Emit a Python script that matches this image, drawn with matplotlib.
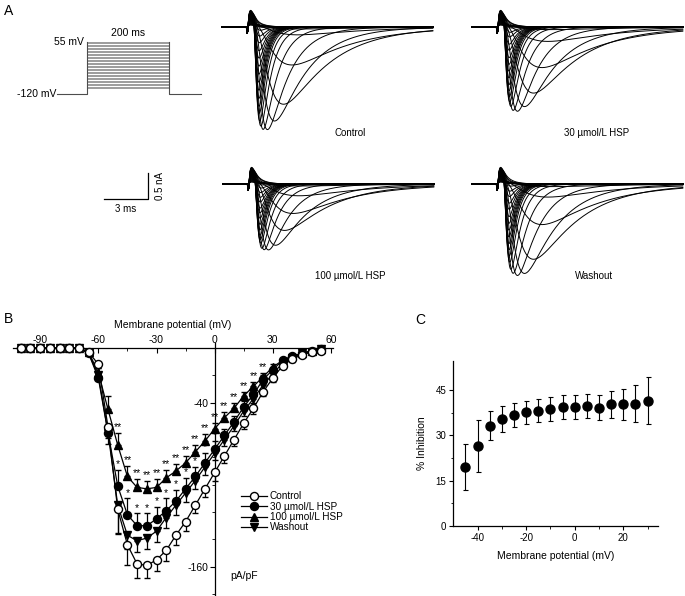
import numpy as np
import matplotlib
matplotlib.use('Agg')
import matplotlib.pyplot as plt
from matplotlib.lines import Line2D
from matplotlib.ticker import FixedLocator

W, H = 685, 596
plt.rcParams['font.family'] = ['Liberation Sans', 'DejaVu Sans']
plt.rcParams['axes.linewidth'] = 0.9
plt.rcParams['axes.unicode_minus'] = False

# ---- Daten: Strom-Spannungs-Kurven (pA/pF) ----
voltages = [-100, -95, -90, -85, -80, -75, -70, -65, -60, -55, -50, -45, -40, -35, -30, -25,
            -20, -15, -10, -5, 0, 5, 10, 15, 20, 25, 30, 35, 40, 45, 50, 55]
control_iv = [0, 0, 0, 0, 0, 0, 0, -3, -12, -58, -118, -144, -158, -159, -155, -148,
              -137, -127, -115, -103, -91, -79, -67, -55, -44, -32, -22, -13, -8, -5, -3, -2]
hsp30_iv = [0, 0, 0, 0, 0, 0, 0, -4, -22, -62, -101, -122, -130, -130, -125, -119,
            -112, -103, -94, -84, -74, -64, -54, -43, -34, -23, -16, -9, -6, -4, -2, -1]
hsp100_iv = [0, 0, 0, 0, 0, 0, 0, -3, -18, -45, -71, -94, -102, -103, -102, -95,
             -90, -84, -76, -68, -59, -51, -44, -35, -28, -21, -14, -9, -6, -4, -2, -1]
washout_iv = [0, 0, 0, 0, 0, 0, 0, -4, -20, -62, -115, -137, -141, -139, -134, -124,
              -115, -106, -97, -87, -77, -67, -57, -46, -37, -27, -19, -11, -7, -4, -3, -1]

control_sem = [0, 0, 0, 0, 0, 0, 0, 1, 3, 8, 18, 15, 10, 9, 8, 8,
               7, 7, 6, 6, 6, 5, 5, 4, 4, 3, 3, 2, 2, 1, 1, 1]
hsp30_sem = [0, 0, 0, 0, 0, 0, 0, 1, 2, 6, 12, 12, 9, 9, 9, 9,
             8, 8, 7, 7, 6, 5, 4, 4, 3, 3, 2, 1, 1, 1, 1, 1]
hsp100_sem = [0, 0, 0, 0, 0, 0, 0, 1, 3, 10, 9, 8, 6, 6, 6, 6,
              5, 5, 5, 5, 4, 4, 4, 3, 3, 3, 2, 1, 1, 1, 1, 1]
washout_sem = [0, 0, 0, 0, 0, 0, 0, 1, 3, 8, 20, 10, 8, 8, 8, 8,
               7, 7, 6, 6, 5, 5, 4, 4, 3, 3, 2, 1, 1, 1, 1, 1]

star100_v = [-50, -45, -40, -35, -30, -25, -20, -15, -10, -5, 0, 5, 10, 15, 20, 25]
star30_v = [-50, -45, -40, -35, -30, -25, -20, -15, -10, -5, 0, 5]

# ---- Daten: Hemmung (%) ----
inhib_v = [-45, -40, -35, -30, -25, -20, -15, -10, -5, 0, 5, 10, 15, 20, 25, 30]
inhib_pct = [19.6, 26.5, 33.2, 35.4, 36.8, 37.6, 38.2, 38.7, 39.3, 39.3, 39.7, 39.2, 40.3, 40.3, 40.5, 41.4]
inhib_sem = [7.6, 8.7, 4.9, 4.3, 3.9, 3.8, 3.9, 4.0, 3.9, 4.0, 4.0, 4.2, 4.4, 5.1, 6.0, 7.8]

# Protokoll / Ableitung
holding_mv = -120
pulse_ms = [0, 200]
pre_post_ms = [-73, 278]
cell_cap_pf = 12.6      # pA/pF -> nA
scale_ms, scale_na = 3, 0.5

fig = plt.figure(figsize=(W / 100, H / 100), dpi=100)


def px_axes(x0, y0, x1, y1):
    return fig.add_axes([x0 / W, 1 - y1 / H, (x1 - x0) / W, (y1 - y0) / H])


def px_text(x, y, s, **kw):
    fig.text(x / W, 1 - y / H, s, **kw)


# ---------------- A: Spannungsprotokoll ----------------
axp = px_axes(50, 35, 210, 100)
axp.set_xlim(-90.2, 300)
axp.set_ylim(-140.3, 78.6)
for v in voltages:
    axp.plot(pulse_ms, [v, v], color='0.55', lw=0.6)
top_v = max(voltages)
axp.plot([pre_post_ms[0], pulse_ms[0], pulse_ms[0]], [holding_mv, holding_mv, top_v], color='0.3', lw=0.8)
axp.plot([pulse_ms[1], pulse_ms[1], pre_post_ms[1]], [top_v, holding_mv, holding_mv], color='0.3', lw=0.8)
axp.text(pulse_ms[0] - 8, top_v, '55 mV', ha='right', va='center', fontsize=7.5)
axp.text(sum(pulse_ms) / 2, 85, '200 ms', ha='center', va='center', fontsize=7.5)
axp.text(pre_post_ms[0] - 2, holding_mv, '-120 mV', ha='right', va='center', fontsize=7.5)
axp.axis('off')

# ---------------- A: Stromspuren ----------------
t = np.linspace(-1.8, 12.6, 900)


def na_trace(v, amp):
    tm = 0.18 + 1.3 / (1 + np.exp((v + 50) / 6))
    th = 0.45 + 4.2 / (1 + np.exp((v + 47) / 6))
    tt = np.clip(t - 0.35, 0, None)
    shape = (1 - np.exp(-tt / tm)) ** 3 * np.exp(-tt / th)
    shape = shape / shape.max() if shape.max() > 0 else shape
    tc = np.clip(t, 0, None)
    cap = 0.55 * (v + 120) / 175 * np.exp(-tc / 0.5) * (1 - np.exp(-tc / 0.1))
    dip = -0.12 * np.exp(-((t + 0.05) / 0.04) ** 2)
    return amp * shape + cap + dip


panels = [(control_iv, 'Control', 220, 5, 350, 133),
          (hsp30_iv, '30 \u00b5mol/L HSP', 470, 5, 597, 133),
          (hsp100_iv, '100 \u00b5mol/L HSP', 221, 162, 350, 276),
          (washout_iv, 'Washout', 470, 162, 594, 276)]
trace_axes = []
for iv, name, x0, y0, lx, ly in panels:
    ax = px_axes(x0, y0, x0 + 220, y0 + 135)
    ax.set_xlim(-1.909, 13.09)
    ax.set_ylim(-2.173, 0.423)
    for v, i in zip(voltages, iv):
        ax.plot(t, na_trace(v, i * cell_cap_pf / 1000), color='k', lw=0.7, clip_on=False)
    ax.axis('off')
    px_text(lx, ly, name, ha='center', va='center', fontsize=7)
    trace_axes.append(ax)

# Massstab
axs = trace_axes[2]
tb, ib = -6.88, -0.29
axs.plot([tb - scale_ms, tb, tb], [ib, ib, ib + scale_na], color='k', lw=0.9, clip_on=False)
axs.text(tb + 0.45, ib + scale_na / 2, '0.5 nA', rotation=90, ha='left', va='center', fontsize=7)
axs.text(tb - scale_ms / 2, ib - 0.1, '3 ms', ha='center', va='top', fontsize=7)

# ---------------- B: I-V Kurve ----------------
axb = px_axes(13, 342.5, 333, 596)
axb.set_xlim(-104, 61)
axb.set_ylim(-181.4, 4)
series = [(washout_iv, washout_sem, 'down', 'v', 'k', 'Washout'),
          (hsp100_iv, hsp100_sem, 'up', '^', 'k', '100 \u00b5mol/L HSP'),
          (hsp30_iv, hsp30_sem, 'up', 'o', 'k', '30 \u00b5mol/L HSP'),
          (control_iv, control_sem, 'down', 'o', 'white', 'Control')]
for iv, sem, side, mk, fc, lab in series:
    zero = [0] * len(sem)
    yerr = [sem, zero] if side == 'down' else [zero, sem]
    axb.errorbar(voltages, iv, yerr=yerr, fmt=mk + '-', color='k', mfc=fc, mec='k', ms=5.8,
                 mew=1.0, lw=0.9, elinewidth=0.9, capsize=2, capthick=0.9, clip_on=False, zorder=3)

for v in star100_v:
    i = voltages.index(v)
    axb.text(v, hsp100_iv[i] + hsp100_sem[i] + 0.5, '**', ha='center', va='bottom', fontsize=7.5)
for v in star30_v:
    i = voltages.index(v)
    axb.text(v, hsp30_iv[i] + hsp30_sem[i] + 0.5, '*', ha='center', va='bottom', fontsize=7.5)

axb.spines['left'].set_position(('data', 0))
axb.spines['top'].set_position(('data', 0))
axb.spines['right'].set_visible(False)
axb.spines['bottom'].set_visible(False)
axb.xaxis.set_ticks_position('top')
axb.xaxis.set_label_position('top')
axb.set_xticks([-90, -60, -30, 0, 30, 60])
axb.xaxis.set_minor_locator(FixedLocator([-75, -45, -15, 15, 45]))
axb.tick_params(axis='x', which='both', direction='in', labelsize=7.5, pad=2)
axb.tick_params(axis='x', which='major', length=3.5)
axb.tick_params(axis='x', which='minor', length=2)
axb.set_xlabel('Membrane potential (mV)', fontsize=7.5, labelpad=5)
axb.set_yticks([-40, -160])
axb.yaxis.set_minor_locator(FixedLocator([-20, -60, -80, -100, -120, -140, -180]))
axb.tick_params(axis='y', which='both', direction='out', labelsize=7.5, pad=1)
axb.tick_params(axis='y', which='major', length=3.5)
axb.tick_params(axis='y', which='minor', length=2)
axb.text(8, -167, 'pA/pF', ha='left', va='center', fontsize=7.5)

handles = [Line2D([], [], color='k', lw=0.9, marker=mk, mfc=fc, mec='k', ms=5.8, mew=1.0, label=lab)
           for _, _, _, mk, fc, lab in series[::-1]]
axb.legend(handles=handles, loc='upper left', bbox_to_anchor=(236 / W, 1 - 486 / H),
           bbox_transform=fig.transFigure, frameon=False, fontsize=7.2, handlelength=2.6,
           handletextpad=0.3, labelspacing=0.05, borderpad=0)

# ---------------- C: Hemmung ----------------
axc = px_axes(453.3, 360.7, 657.7, 526)
axc.errorbar(inhib_v, inhib_pct, yerr=inhib_sem, fmt='o', color='k', ms=6.5, elinewidth=0.8,
             capsize=1.8, capthick=0.8, clip_on=False)
axc.set_xlim(-50, 34.2)
axc.set_ylim(0, 54.7)
axc.spines['top'].set_visible(False)
axc.spines['right'].set_visible(False)
axc.set_xticks([-40, -20, 0, 20])
axc.xaxis.set_minor_locator(FixedLocator([-30, -10, 10, 30]))
axc.set_yticks([0, 15, 30, 45])
axc.yaxis.set_minor_locator(FixedLocator([7.5, 22.5, 37.5]))
axc.tick_params(which='both', direction='out', labelsize=7, pad=2)
axc.tick_params(which='major', length=3)
axc.tick_params(which='minor', length=1.8)
axc.set_xlabel('Membrane potential (mV)', fontsize=7.5, labelpad=6)
axc.set_ylabel('% Inhibition', fontsize=7.5, labelpad=6)

# Panelbuchstaben
px_text(4, 11, 'A', fontsize=10, va='center')
px_text(4, 319, 'B', fontsize=10, va='center')
px_text(415, 320, 'C', fontsize=10, va='center')

plt.savefig('out.png', dpi=100)
